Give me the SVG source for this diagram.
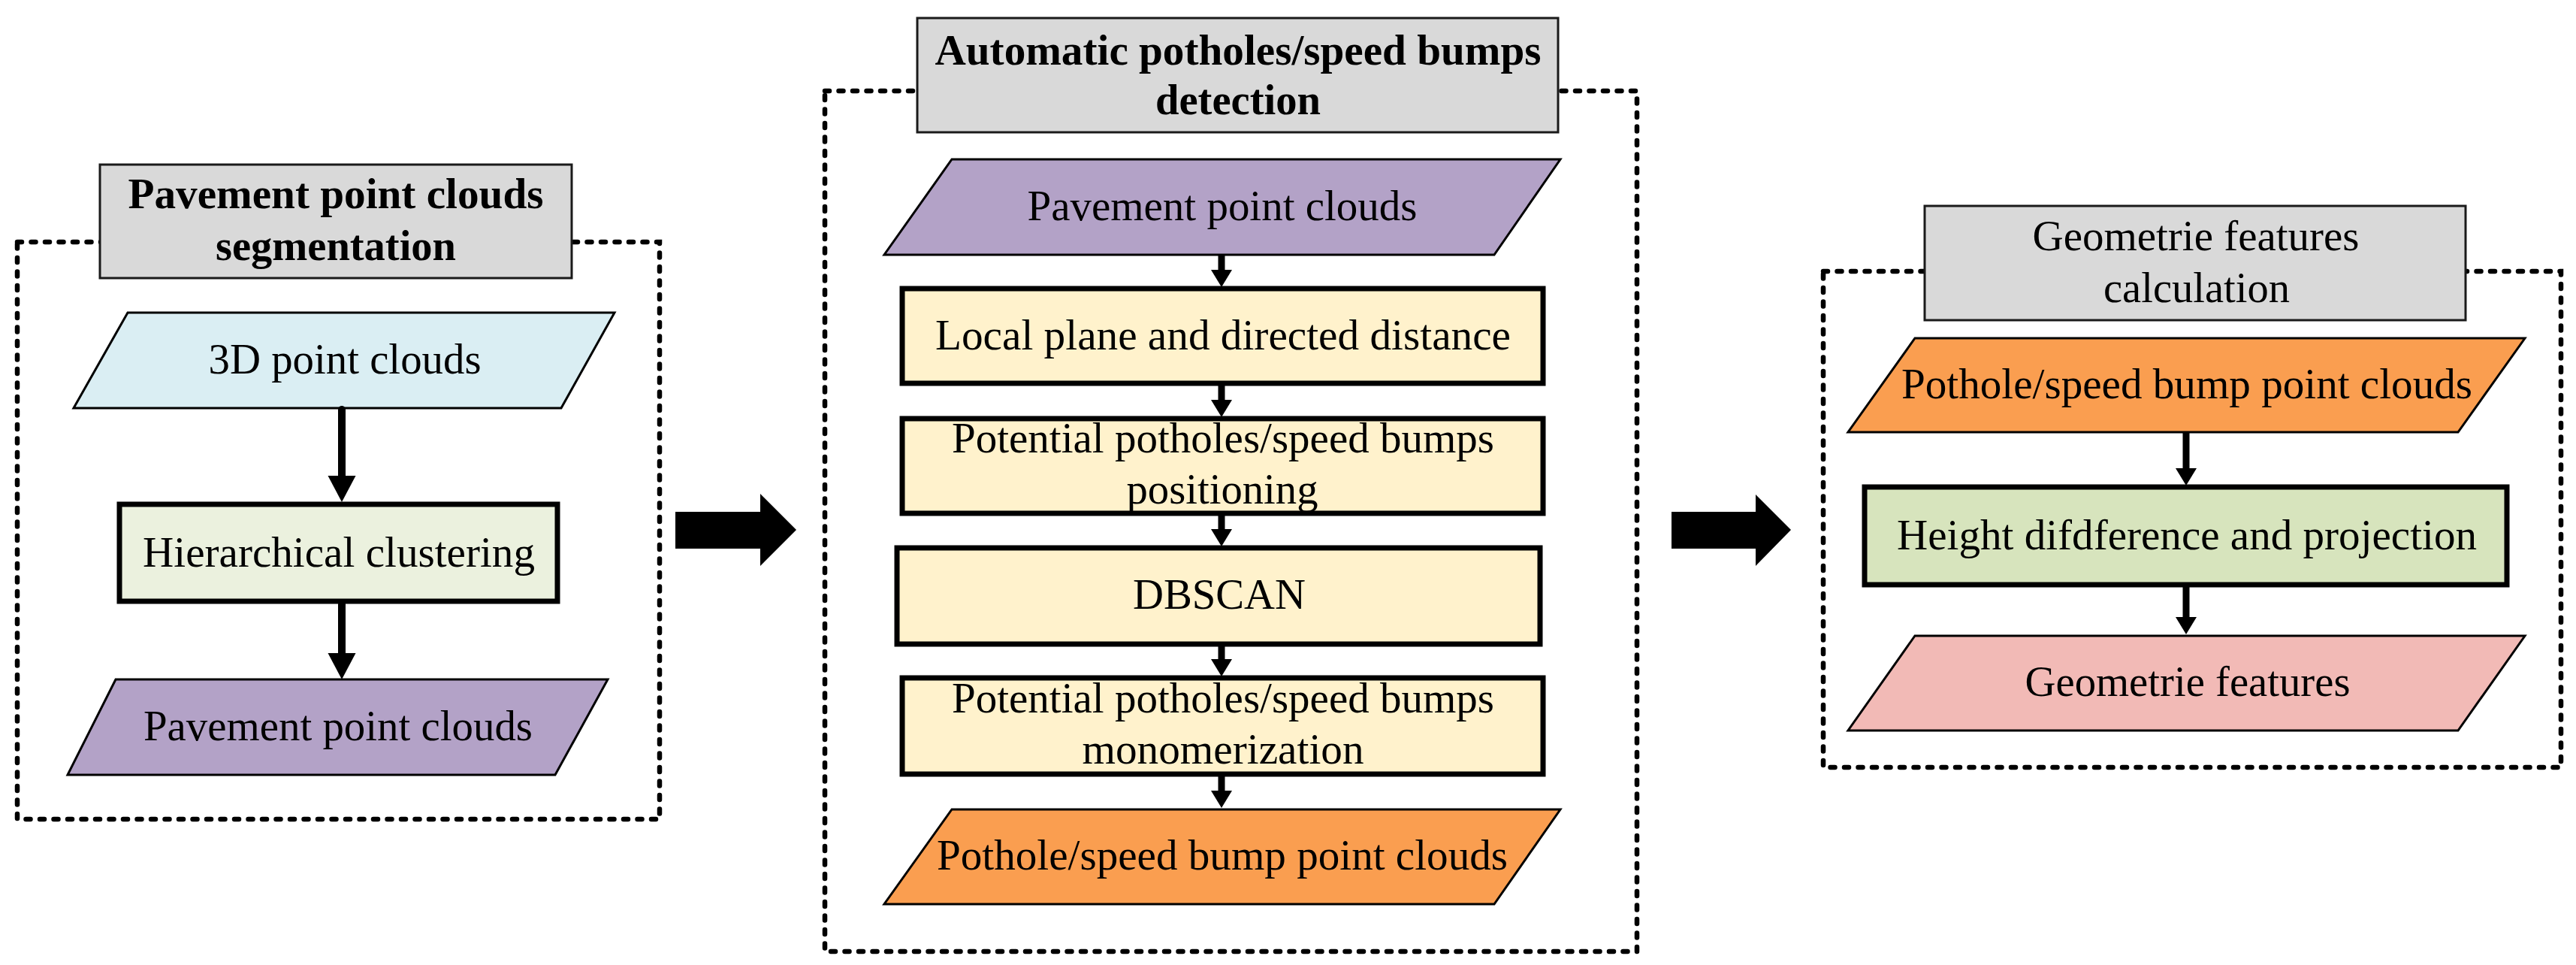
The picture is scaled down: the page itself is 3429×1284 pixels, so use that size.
<svg xmlns="http://www.w3.org/2000/svg" width="3429" height="1284" viewBox="0 0 3429 1284">
<style>
text{font-family:"Liberation Serif","Times New Roman",serif;font-size:56px;fill:#000;text-anchor:middle}
.b{font-weight:bold}
.dash{fill:none;stroke:#000;stroke-width:6.5;stroke-dasharray:6 12.5;stroke-linecap:round}
.title{fill:#D9D9D9;stroke:#1a1a1a;stroke-width:3}
.para{stroke:#000;stroke-width:3}
.box{stroke:#000;stroke-width:7}
.conn{stroke:#000;stroke-width:9;fill:none}
.connL{stroke:#000;stroke-width:10;fill:none;stroke-linecap:round}
</style>
<defs>
<marker id="headL" markerUnits="userSpaceOnUse" markerWidth="36" markerHeight="37" refX="0" refY="18.5" orient="auto" overflow="visible">
<path d="M0,0 L35,18.5 L0,37 Z" fill="#000"/>
</marker>
<marker id="headS" markerUnits="userSpaceOnUse" markerWidth="24" markerHeight="28" refX="0" refY="14" orient="auto" overflow="visible">
<path d="M0,0 L23,14 L0,28 Z" fill="#000"/>
</marker>
</defs>
<rect width="3429" height="1284" fill="#fff"/>

<g id="panel-left">
<rect class="dash" x="23" y="322" width="855" height="768"/>
<g id="title-left">
<rect class="title" x="133" y="219" width="628" height="151"/>
<text class="b" x="447" y="277" textLength="553" lengthAdjust="spacingAndGlyphs">Pavement point clouds</text>
<text class="b" x="447" y="346" textLength="320" lengthAdjust="spacingAndGlyphs">segmentation</text>
</g>
<g id="n-3d">
<polygon class="para" points="170,416 818,416 747,543 98,543" fill="#DAEEF3"/>
<text x="459" y="497" textLength="363" lengthAdjust="spacingAndGlyphs">3D point clouds</text>
</g>
<g id="n-hier">
<rect class="box" x="159" y="671" width="583" height="129" fill="#EBF1DE"/>
<text x="451" y="754" textLength="522" lengthAdjust="spacingAndGlyphs">Hierarchical clustering</text>
</g>
<g id="n-pave-left">
<polygon class="para" points="154,904 809,904 739,1031 90,1031" fill="#B3A2C7"/>
<text x="450" y="985" textLength="518" lengthAdjust="spacingAndGlyphs">Pavement point clouds</text>
</g>
</g>

<g id="panel-mid">
<rect class="dash" x="1098" y="121" width="1081" height="1145"/>
<g id="title-mid">
<rect class="title" x="1221" y="24" width="853" height="152"/>
<text class="b" x="1648" y="86" textLength="807" lengthAdjust="spacingAndGlyphs">Automatic potholes/speed bumps</text>
<text class="b" x="1648" y="152" textLength="220" lengthAdjust="spacingAndGlyphs">detection</text>
</g>
<g id="n-pave-mid">
<polygon class="para" points="1267,212 2077,212 1989,339 1177,339" fill="#B3A2C7"/>
<text x="1627" y="293" textLength="519" lengthAdjust="spacingAndGlyphs">Pavement point clouds</text>
</g>
<g id="n-local">
<rect class="box" x="1201" y="384" width="853" height="126" fill="#FFF2CC"/>
<text x="1628" y="465" textLength="766" lengthAdjust="spacingAndGlyphs">Local plane and directed distance</text>
</g>
<g id="n-posit">
<rect class="box" x="1201" y="557" width="853" height="126" fill="#FFF2CC"/>
<text x="1628" y="602" textLength="722" lengthAdjust="spacingAndGlyphs">Potential potholes/speed bumps</text>
<text x="1627" y="670" textLength="255" lengthAdjust="spacingAndGlyphs">positioning</text>
</g>
<g id="n-dbscan">
<rect class="box" x="1194" y="729" width="856" height="128" fill="#FFF2CC"/>
<text x="1623" y="810" textLength="230" lengthAdjust="spacingAndGlyphs">DBSCAN</text>
</g>
<g id="n-mono">
<rect class="box" x="1201" y="902" width="853" height="128" fill="#FFF2CC"/>
<text x="1628" y="948" textLength="722" lengthAdjust="spacingAndGlyphs">Potential potholes/speed bumps</text>
<text x="1628" y="1016" textLength="375" lengthAdjust="spacingAndGlyphs">monomerization</text>
</g>
<g id="n-pothole-mid">
<polygon class="para" points="1267,1077 2077,1077 1989,1203 1177,1203" fill="#FA9E50"/>
<text x="1627" y="1157" textLength="760" lengthAdjust="spacingAndGlyphs">Pothole/speed bump point clouds</text>
</g>
</g>

<g id="panel-right">
<rect class="dash" x="2427" y="361" width="982" height="660"/>
<g id="title-right">
<rect class="title" x="2562" y="274" width="720" height="152"/>
<text x="2923" y="333" textLength="435" lengthAdjust="spacingAndGlyphs">Geometrie features</text>
<text x="2924" y="402" textLength="248" lengthAdjust="spacingAndGlyphs">calculation</text>
</g>
<g id="n-pothole-right">
<polygon class="para" points="2549,450 3361,450 3272,575 2460,575" fill="#FA9E50"/>
<text x="2911" y="530" textLength="760" lengthAdjust="spacingAndGlyphs">Pothole/speed bump point clouds</text>
</g>
<g id="n-height">
<rect class="box" x="2482" y="648" width="855" height="130" fill="#D7E4BD"/>
<text x="2911" y="731" textLength="772" lengthAdjust="spacingAndGlyphs">Height difdference and projection</text>
</g>
<g id="n-geo">
<polygon class="para" points="2549,846 3361,846 3272,972 2460,972" fill="#F2BAB6"/>
<text x="2912" y="926" textLength="433" lengthAdjust="spacingAndGlyphs">Geometrie features</text>
</g>
</g>

<g id="connectors">
<line class="connL" x1="455" y1="545" x2="455" y2="633" marker-end="url(#headL)"/>
<line class="connL" x1="455" y1="804" x2="455" y2="869" marker-end="url(#headL)"/>
<line class="conn" x1="1626" y1="339" x2="1626" y2="359" marker-end="url(#headS)"/>
<line class="conn" x1="1626" y1="510" x2="1626" y2="532" marker-end="url(#headS)"/>
<line class="conn" x1="1626" y1="683" x2="1626" y2="704" marker-end="url(#headS)"/>
<line class="conn" x1="1626" y1="857" x2="1626" y2="877" marker-end="url(#headS)"/>
<line class="conn" x1="1626" y1="1030" x2="1626" y2="1052" marker-end="url(#headS)"/>
<line class="conn" x1="2910" y1="575" x2="2910" y2="623" marker-end="url(#headS)"/>
<line class="conn" x1="2910" y1="778" x2="2910" y2="821" marker-end="url(#headS)"/>
<polygon points="899,681 1012,681 1012,657 1060,705 1012,753 1012,730 899,730" fill="#000"/>
<polygon points="2225,681 2337,681 2337,658 2384,705 2337,753 2337,730 2225,730" fill="#000"/>
</g>
</svg>
